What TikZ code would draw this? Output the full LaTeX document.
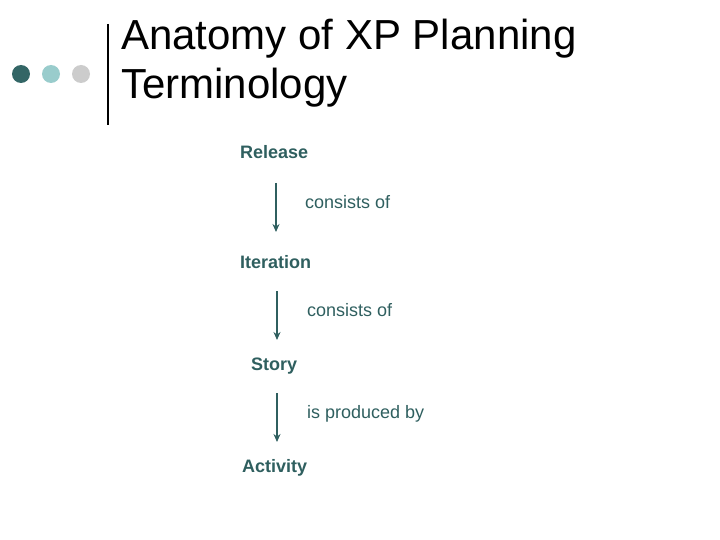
\documentclass[tikz,border=0pt]{standalone}
\usepackage{fontspec}
\setmainfont{Liberation Sans}
\usetikzlibrary{arrows.meta}
\definecolor{teal1}{HTML}{336666}
\definecolor{teal2}{HTML}{99CCCC}
\definecolor{grey1}{HTML}{CCCCCC}
\definecolor{txt}{HTML}{2F5F5F}
\begin{document}
\begin{tikzpicture}[x=1pt,y=-1pt,
  title/.style={anchor=base west,inner sep=0pt,font=\fontsize{42}{50}\selectfont},
  term/.style={anchor=base west,inner sep=0pt,text=txt,font=\fontsize{18}{21}\selectfont\bfseries},
  rel/.style={anchor=base west,inner sep=0pt,text=txt,font=\fontsize{18}{21}\selectfont},
  link/.style={draw=txt,line width=1.8pt,-{Stealth[length=8pt,width=7pt]}}]
\useasboundingbox (0,0) rectangle (720,540);
\fill[teal1] (21,74) circle (9);
\fill[teal2] (51,74) circle (9);
\fill[grey1] (81,74) circle (9);
\draw[line width=2pt] (108,24) -- (108,125);
\node[title] (t1) at (121,50) {Anatomy of XP Planning};
\node[title] (t2) at (121,99) {Terminology};
\node[term] (release) at (240,159) {Release};
\node[term] (iteration) at (240,268) {Iteration};
\node[term] (story) at (251,370) {Story};
\node[term] (activity) at (242,472) {Activity};
\coordinate (a1s) at (276,183); \coordinate (a1e) at (276,232);
\coordinate (a2s) at (277,291); \coordinate (a2e) at (277,340);
\coordinate (a3s) at (277,393); \coordinate (a3e) at (277,442);
\draw[link] (a1s) -- (a1e);
\draw[link] (a2s) -- (a2e);
\draw[link] (a3s) -- (a3e);
\node[rel] (c1) at (305,208) {consists of};
\node[rel] (c2) at (307,316) {consists of};
\node[rel] (c3) at (307,418) {is produced by};
\end{tikzpicture}
\end{document}
